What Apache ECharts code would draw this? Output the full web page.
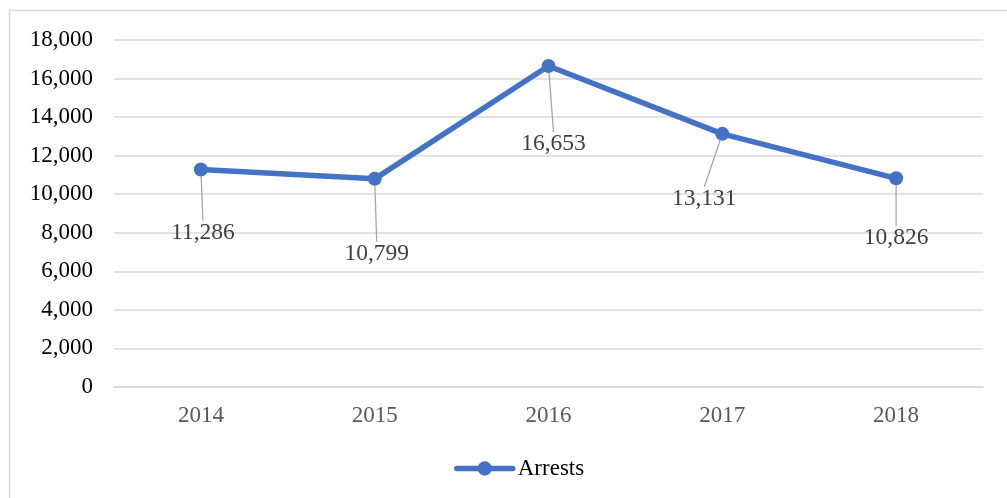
<!DOCTYPE html>
<html>
<head>
<meta charset="utf-8">
<script src="https://cdn.jsdelivr.net/npm/echarts@6/dist/echarts.min.js"></script>
<style>
  html, body { margin: 0; padding: 0; background: #fff; }
  #chart { width: 1007px; height: 498px; }
</style>
</head>
<body>
<div id="chart"></div>
<script>
// Annual arrests, 2014–2018
const years = ['2014', '2015', '2016', '2017', '2018'];
const arrests = [11286, 10799, 16653, 13131, 10826];
const yTicks = { min: 0, max: 18000, interval: 2000 };

// Where each value label sits relative to its point (pixels)
const labelOffsets = [[2, 44], [2, 56], [5, 59], [-18, 46], [0, 41]];

const fmt = v => v.toLocaleString('en-US');
const serif = '"Liberation Serif", "Times New Roman", serif';

const chart = echarts.init(document.getElementById('chart'));
chart.setOption({
  animation: false,
  backgroundColor: '#fff',
  graphic: [{
    type: 'rect',
    shape: { x: 9.5, y: 10.5, width: 1010, height: 500 },
    style: { fill: 'none', stroke: '#d9d9d9', lineWidth: 1.5 },
    silent: true
  }],
  grid: { left: 114, right: 24, top: 40, bottom: 111, containLabel: false },
  xAxis: {
    type: 'category',
    data: years,
    boundaryGap: true,
    axisLine: { show: true, lineStyle: { color: '#d9d9d9', width: 1.5 } },
    axisTick: { show: false },
    axisLabel: { color: '#595959', fontFamily: serif, fontSize: 23, margin: 17 }
  },
  yAxis: {
    type: 'value',
    min: yTicks.min, max: yTicks.max, interval: yTicks.interval,
    axisLine: { show: false },
    axisTick: { show: false },
    axisLabel: { color: '#000', fontFamily: serif, fontSize: 23, margin: 21, formatter: fmt },
    splitLine: { lineStyle: { color: '#d9d9d9', width: 1.5 } }
  },
  legend: {
    top: 452,
    left: 449,
    itemWidth: 56,
    itemHeight: 18,
    itemGap: 5,
    lineStyle: { width: 5.5, cap: 'round' },
    textStyle: { color: '#000', fontFamily: serif, fontSize: 23 },
    data: ['Arrests']
  },
  series: [{
    name: 'Arrests',
    type: 'line',
    data: arrests,
    color: '#4472c4',
    lineStyle: { color: '#4472c4', width: 5.5, cap: 'round' },
    symbol: 'circle',
    symbolSize: 14,
    itemStyle: { color: '#4472c4' },
    label: {
      show: true,
      position: 'bottom',
      distance: 0,
      color: '#404040',
      fontFamily: serif,
      fontSize: 23.5,
      formatter: p => fmt(p.value)
    },
    labelLine: { show: true, lineStyle: { color: '#a6a6a6', width: 1.3 } },
    labelLayout: p => ({ dx: labelOffsets[p.dataIndex][0], dy: labelOffsets[p.dataIndex][1] })
  }]
});
</script>
</body>
</html>
